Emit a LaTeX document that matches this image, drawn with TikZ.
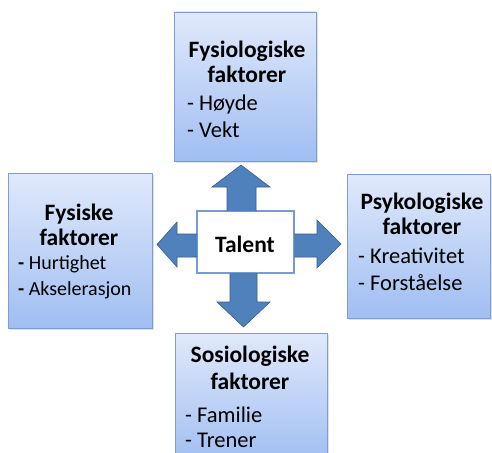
\documentclass[tikz,border=0pt]{standalone}
\usepackage{fontspec}
\setmainfont{Carlito}
\usetikzlibrary{shadows}
\definecolor{boxtop}{RGB}{224,233,251}
\definecolor{boxbot}{RGB}{160,190,242}
\definecolor{boxedge}{RGB}{124,158,212}
\definecolor{arrfill}{RGB}{79,129,189}
\definecolor{arredge}{RGB}{56,93,138}
\definecolor{talentedge}{RGB}{120,156,206}
\begin{document}
\begin{tikzpicture}[x=1pt,y=-1pt,
  factor/.style={draw=boxedge,line width=0.8pt,top color=boxtop,bottom color=boxbot,inner sep=0pt,
    drop shadow={opacity=0.25,shadow xshift=1.5pt,shadow yshift=-1.5pt}},
  head/.style={anchor=base,inner sep=0pt,font=\fontsize{23.5}{25}\selectfont\bfseries},
  item/.style={anchor=base west,inner sep=0pt,font=\fontsize{22.5}{25}\selectfont},
  itemsmall/.style={anchor=base west,inner sep=0pt,font=\fontsize{20}{24}\selectfont},
  blockarrow/.style={fill=arrfill,draw=arredge,line width=0.6pt,line join=miter}]
\useasboundingbox (0,0) rectangle (492,452);
\begin{scope}
\clip (0,0) rectangle (492,452);
% boxes
\node[factor,minimum width=142pt,minimum height=149pt] (top) at (245,86.5) {};
\node[factor,minimum width=144pt,minimum height=155pt] (left) at (80,250.5) {};
\node[factor,minimum width=143pt,minimum height=144pt] (right) at (418.5,246) {};
\node[factor,minimum width=152pt,minimum height=130pt] (bottom) at (251,398) {};
\end{scope}
% center
\node[draw=talentedge,line width=1.2pt,fill=white,minimum width=97pt,minimum height=62pt,inner sep=0pt] (talent) at (245.5,242) {};
\node[head] (talenttxt) at (245,252) {Talent};
% arrows
\path[blockarrow] (227,211) -- (227,187) -- (212,187) -- (241,165) -- (270,187) -- (256,187) -- (256,211);
\path[blockarrow] (197,234) -- (177,234) -- (177,222) -- (157,244.5) -- (177,267) -- (177,257) -- (197,257);
\path[blockarrow] (294,234) -- (317,234) -- (317,220) -- (341,244) -- (317,268) -- (317,257) -- (294,257);
\path[blockarrow] (230,273) -- (230,302) -- (217,302) -- (243.5,327) -- (270,302) -- (257,302) -- (257,273);
% top texts
\node[head] (t1) at (247,57) {Fysiologiske};
\node[head] (t2) at (247,82) {faktorer};
\node[item] (t3) at (187,110) {- Høyde};
\node[item] (t4) at (187,137) {- Vekt};
% left texts
\node[head] (l1) at (79,220) {Fysiske};
\node[head] (l2) at (79,245) {faktorer};
\node[itemsmall] (l3) at (18,269) {\textbf{-} Hurtighet};
\node[itemsmall] (l4) at (18,295) {\textbf{-} Akselerasjon};
% right texts
\node[head] (r1) at (422,209) {Psykologiske};
\node[head] (r2) at (422,234) {faktorer};
\node[item] (r3) at (358,263) {- Kreativitet};
\node[item] (r4) at (358,290) {- Forståelse};
% bottom texts
\node[head] (b1) at (250,362) {Sosiologiske};
\node[head] (b2) at (250,389) {faktorer};
\node[item] (b3) at (185,422) {- Familie};
\node[item] (b4) at (185,447) {- Trener};
\end{tikzpicture}
\end{document}
